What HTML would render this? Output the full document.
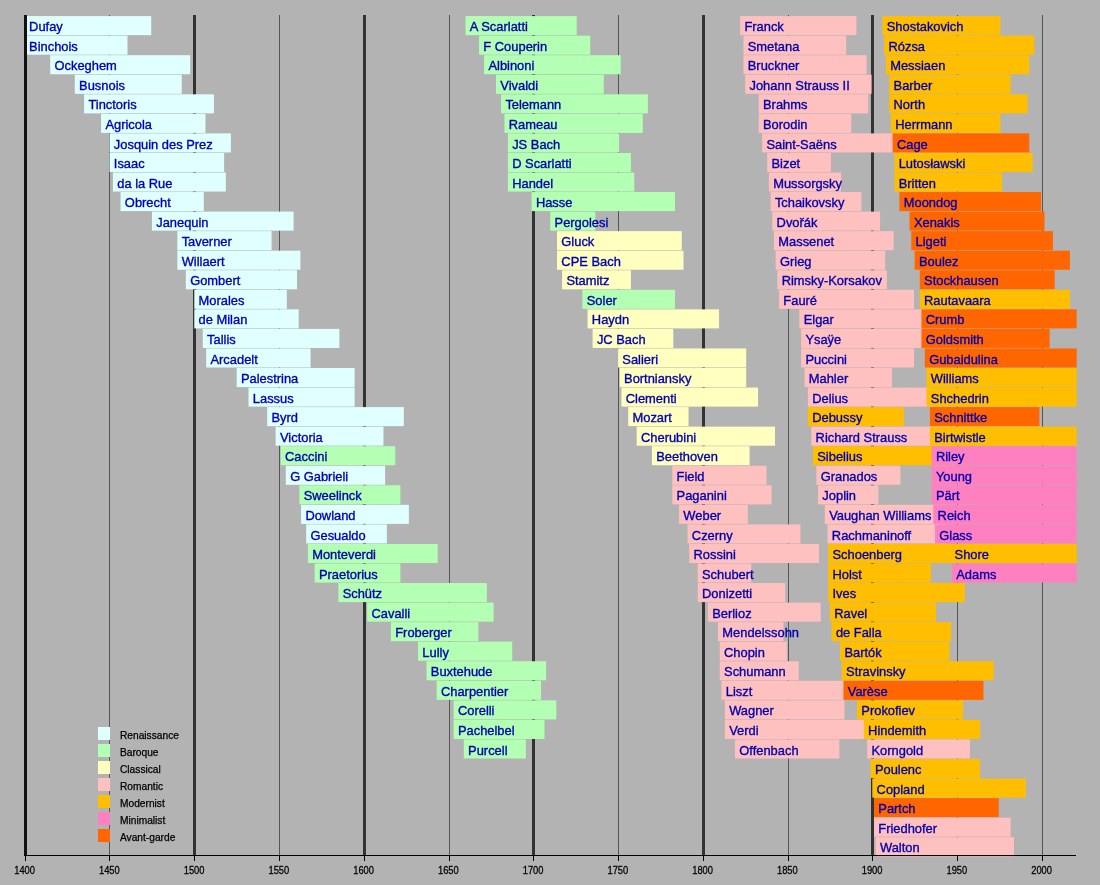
<!DOCTYPE html><html><head><meta charset="utf-8"><style>html,body{margin:0;padding:0;background:#b3b3b3;width:1100px;height:885px;overflow:hidden}#w{width:1100px;height:885px;will-change:transform}svg{display:block}text{font-family:"Liberation Sans",sans-serif}</style></head><body><div id="w">
<svg width="1100" height="885" viewBox="0 0 1100 885">
<rect x="0" y="0" width="1100" height="885" fill="#b3b3b3"/>
<rect x="24" y="15.00" width="3" height="840.00" fill="#333333"/>
<rect x="109" y="15.00" width="1" height="840.00" fill="#555555"/>
<rect x="193" y="15.00" width="3" height="840.00" fill="#333333"/>
<rect x="279" y="15.00" width="1" height="840.00" fill="#555555"/>
<rect x="363" y="15.00" width="3" height="840.00" fill="#333333"/>
<rect x="449" y="15.00" width="1" height="840.00" fill="#555555"/>
<rect x="532" y="15.00" width="3" height="840.00" fill="#333333"/>
<rect x="618" y="15.00" width="1" height="840.00" fill="#555555"/>
<rect x="702" y="15.00" width="3" height="840.00" fill="#333333"/>
<rect x="788" y="15.00" width="1" height="840.00" fill="#555555"/>
<rect x="871" y="15.00" width="3" height="840.00" fill="#333333"/>
<rect x="957" y="15.00" width="1" height="840.00" fill="#555555"/>
<rect x="1042" y="15.00" width="1" height="840.00" fill="#555555"/>
<rect x="25.40" y="16.10" width="125.83" height="19.05" fill="#e0ffff"/>
<rect x="25.40" y="35.65" width="102.10" height="19.05" fill="#e0ffff"/>
<rect x="50.23" y="55.20" width="139.99" height="19.05" fill="#e0ffff"/>
<rect x="74.80" y="74.75" width="106.94" height="19.05" fill="#e0ffff"/>
<rect x="84.12" y="94.30" width="129.82" height="19.05" fill="#e0ffff"/>
<rect x="101.08" y="113.85" width="104.40" height="19.05" fill="#e0ffff"/>
<rect x="109.55" y="133.40" width="121.34" height="19.05" fill="#e0ffff"/>
<rect x="109.55" y="152.95" width="114.56" height="19.05" fill="#e0ffff"/>
<rect x="112.94" y="172.50" width="112.87" height="19.05" fill="#e0ffff"/>
<rect x="120.57" y="192.05" width="83.21" height="19.05" fill="#e0ffff"/>
<rect x="151.93" y="211.60" width="141.68" height="19.05" fill="#e0ffff"/>
<rect x="177.35" y="231.15" width="94.22" height="19.05" fill="#e0ffff"/>
<rect x="177.35" y="250.70" width="123.04" height="19.05" fill="#e0ffff"/>
<rect x="185.83" y="270.25" width="111.17" height="19.05" fill="#e0ffff"/>
<rect x="194.30" y="289.80" width="92.53" height="19.05" fill="#e0ffff"/>
<rect x="194.30" y="309.35" width="104.39" height="19.05" fill="#e0ffff"/>
<rect x="202.78" y="328.90" width="136.60" height="19.05" fill="#e0ffff"/>
<rect x="206.17" y="348.45" width="104.39" height="19.05" fill="#e0ffff"/>
<rect x="236.68" y="368.00" width="117.95" height="19.05" fill="#e0ffff"/>
<rect x="248.54" y="387.55" width="106.09" height="19.05" fill="#e0ffff"/>
<rect x="267.19" y="407.10" width="136.60" height="19.05" fill="#e0ffff"/>
<rect x="275.66" y="426.65" width="107.79" height="19.05" fill="#e0ffff"/>
<rect x="280.75" y="446.20" width="114.56" height="19.05" fill="#b3ffb3"/>
<rect x="285.83" y="465.75" width="99.31" height="19.05" fill="#e0ffff"/>
<rect x="299.39" y="485.30" width="101.00" height="19.05" fill="#b3ffb3"/>
<rect x="301.08" y="504.85" width="107.78" height="19.05" fill="#e0ffff"/>
<rect x="306.17" y="524.40" width="80.67" height="19.05" fill="#e0ffff"/>
<rect x="307.86" y="543.95" width="129.82" height="19.05" fill="#b3ffb3"/>
<rect x="314.64" y="563.50" width="85.75" height="19.05" fill="#b3ffb3"/>
<rect x="338.37" y="583.05" width="148.47" height="19.05" fill="#b3ffb3"/>
<rect x="367.19" y="602.60" width="126.43" height="19.05" fill="#b3ffb3"/>
<rect x="390.92" y="622.15" width="87.44" height="19.05" fill="#b3ffb3"/>
<rect x="418.04" y="641.70" width="94.23" height="19.05" fill="#b3ffb3"/>
<rect x="426.51" y="661.25" width="119.65" height="19.05" fill="#b3ffb3"/>
<rect x="436.68" y="680.80" width="104.39" height="19.05" fill="#b3ffb3"/>
<rect x="453.63" y="700.35" width="102.70" height="19.05" fill="#b3ffb3"/>
<rect x="453.63" y="719.90" width="90.84" height="19.05" fill="#b3ffb3"/>
<rect x="463.80" y="739.45" width="62.02" height="19.05" fill="#b3ffb3"/>
<rect x="465.50" y="16.10" width="111.18" height="19.05" fill="#b3ffb3"/>
<rect x="479.06" y="35.65" width="111.18" height="19.05" fill="#b3ffb3"/>
<rect x="484.14" y="55.20" width="136.60" height="19.05" fill="#b3ffb3"/>
<rect x="496.01" y="74.75" width="107.78" height="19.05" fill="#b3ffb3"/>
<rect x="501.09" y="94.30" width="146.77" height="19.05" fill="#b3ffb3"/>
<rect x="504.48" y="113.85" width="138.30" height="19.05" fill="#b3ffb3"/>
<rect x="507.88" y="133.40" width="111.17" height="19.05" fill="#b3ffb3"/>
<rect x="507.88" y="152.95" width="123.04" height="19.05" fill="#b3ffb3"/>
<rect x="507.88" y="172.50" width="126.43" height="19.05" fill="#b3ffb3"/>
<rect x="531.61" y="192.05" width="143.38" height="19.05" fill="#b3ffb3"/>
<rect x="550.25" y="211.60" width="45.07" height="19.05" fill="#b3ffb3"/>
<rect x="557.03" y="231.15" width="124.74" height="19.05" fill="#ffffc0"/>
<rect x="557.03" y="250.70" width="126.43" height="19.05" fill="#ffffc0"/>
<rect x="562.12" y="270.25" width="68.80" height="19.05" fill="#ffffc0"/>
<rect x="582.45" y="289.80" width="92.53" height="19.05" fill="#b3ffb3"/>
<rect x="587.54" y="309.35" width="131.51" height="19.05" fill="#ffffc0"/>
<rect x="592.62" y="328.90" width="80.66" height="19.05" fill="#ffffc0"/>
<rect x="618.05" y="348.45" width="128.12" height="19.05" fill="#ffffc0"/>
<rect x="619.75" y="368.00" width="126.43" height="19.05" fill="#ffffc0"/>
<rect x="621.44" y="387.55" width="136.60" height="19.05" fill="#ffffc0"/>
<rect x="628.22" y="407.10" width="60.32" height="19.05" fill="#ffffc0"/>
<rect x="636.69" y="426.65" width="138.30" height="19.05" fill="#ffffc0"/>
<rect x="651.95" y="446.20" width="97.62" height="19.05" fill="#ffffc0"/>
<rect x="672.29" y="465.75" width="94.23" height="19.05" fill="#ffc0c0"/>
<rect x="672.29" y="485.30" width="99.31" height="19.05" fill="#ffc0c0"/>
<rect x="679.07" y="504.85" width="68.80" height="19.05" fill="#ffc0c0"/>
<rect x="687.54" y="524.40" width="112.87" height="19.05" fill="#ffc0c0"/>
<rect x="689.24" y="543.95" width="129.82" height="19.05" fill="#ffc0c0"/>
<rect x="697.72" y="563.50" width="53.54" height="19.05" fill="#ffc0c0"/>
<rect x="697.72" y="583.05" width="87.44" height="19.05" fill="#ffc0c0"/>
<rect x="707.88" y="602.60" width="112.87" height="19.05" fill="#ffc0c0"/>
<rect x="718.05" y="622.15" width="65.41" height="19.05" fill="#ffc0c0"/>
<rect x="719.75" y="641.70" width="67.11" height="19.05" fill="#ffc0c0"/>
<rect x="719.75" y="661.25" width="78.97" height="19.05" fill="#ffc0c0"/>
<rect x="721.44" y="680.80" width="128.12" height="19.05" fill="#ffc0c0"/>
<rect x="724.84" y="700.35" width="119.65" height="19.05" fill="#ffc0c0"/>
<rect x="724.84" y="719.90" width="150.16" height="19.05" fill="#ffc0c0"/>
<rect x="735.00" y="739.45" width="104.39" height="19.05" fill="#ffc0c0"/>
<rect x="740.09" y="16.10" width="116.26" height="19.05" fill="#ffc0c0"/>
<rect x="743.48" y="35.65" width="102.70" height="19.05" fill="#ffc0c0"/>
<rect x="743.48" y="55.20" width="123.04" height="19.05" fill="#ffc0c0"/>
<rect x="745.17" y="74.75" width="126.43" height="19.05" fill="#ffc0c0"/>
<rect x="758.74" y="94.30" width="109.48" height="19.05" fill="#ffc0c0"/>
<rect x="758.74" y="113.85" width="92.53" height="19.05" fill="#ffc0c0"/>
<rect x="762.12" y="133.40" width="146.77" height="19.05" fill="#ffc0c0"/>
<rect x="767.21" y="152.95" width="63.71" height="19.05" fill="#ffc0c0"/>
<rect x="768.90" y="172.50" width="72.19" height="19.05" fill="#ffc0c0"/>
<rect x="770.60" y="192.05" width="90.83" height="19.05" fill="#ffc0c0"/>
<rect x="772.29" y="211.60" width="107.79" height="19.05" fill="#ffc0c0"/>
<rect x="773.99" y="231.15" width="119.65" height="19.05" fill="#ffc0c0"/>
<rect x="775.68" y="250.70" width="109.48" height="19.05" fill="#ffc0c0"/>
<rect x="777.38" y="270.25" width="109.48" height="19.05" fill="#ffc0c0"/>
<rect x="779.07" y="289.80" width="134.91" height="19.05" fill="#ffc0c0"/>
<rect x="799.41" y="309.35" width="131.51" height="19.05" fill="#ffc0c0"/>
<rect x="801.11" y="328.90" width="124.74" height="19.05" fill="#ffc0c0"/>
<rect x="801.11" y="348.45" width="112.87" height="19.05" fill="#ffc0c0"/>
<rect x="804.50" y="368.00" width="87.44" height="19.05" fill="#ffc0c0"/>
<rect x="807.89" y="387.55" width="123.04" height="19.05" fill="#ffc0c0"/>
<rect x="807.89" y="407.10" width="95.92" height="19.05" fill="#ffbf00"/>
<rect x="811.28" y="426.65" width="145.08" height="19.05" fill="#ffc0c0"/>
<rect x="812.98" y="446.20" width="156.94" height="19.05" fill="#ffbf00"/>
<rect x="816.37" y="465.75" width="84.05" height="19.05" fill="#ffc0c0"/>
<rect x="818.06" y="485.30" width="60.33" height="19.05" fill="#ffc0c0"/>
<rect x="824.84" y="504.85" width="146.77" height="19.05" fill="#ffc0c0"/>
<rect x="827.55" y="524.40" width="118.63" height="19.05" fill="#ffc0c0"/>
<rect x="828.23" y="543.95" width="131.51" height="19.05" fill="#ffbf00"/>
<rect x="828.23" y="563.50" width="102.70" height="19.05" fill="#ffbf00"/>
<rect x="828.23" y="583.05" width="136.60" height="19.05" fill="#ffbf00"/>
<rect x="829.92" y="602.60" width="106.09" height="19.05" fill="#ffbf00"/>
<rect x="831.62" y="622.15" width="119.65" height="19.05" fill="#ffbf00"/>
<rect x="840.10" y="641.70" width="109.48" height="19.05" fill="#ffbf00"/>
<rect x="841.79" y="661.25" width="151.86" height="19.05" fill="#ffbf00"/>
<rect x="843.49" y="680.80" width="139.99" height="19.05" fill="#ff6600"/>
<rect x="857.04" y="700.35" width="106.09" height="19.05" fill="#ffbf00"/>
<rect x="863.82" y="719.90" width="116.26" height="19.05" fill="#ffbf00"/>
<rect x="867.22" y="739.45" width="102.70" height="19.05" fill="#ffc0c0"/>
<rect x="870.61" y="759.00" width="109.48" height="19.05" fill="#ffbf00"/>
<rect x="872.30" y="778.55" width="153.55" height="19.05" fill="#ffbf00"/>
<rect x="874.00" y="798.10" width="124.74" height="19.05" fill="#ff6600"/>
<rect x="874.00" y="817.65" width="136.60" height="19.05" fill="#ffc0c0"/>
<rect x="875.69" y="837.20" width="138.30" height="19.05" fill="#ffc0c0"/>
<rect x="882.47" y="16.10" width="117.95" height="19.05" fill="#ffbf00"/>
<rect x="884.16" y="35.65" width="150.16" height="19.05" fill="#ffbf00"/>
<rect x="885.86" y="55.20" width="143.38" height="19.05" fill="#ffbf00"/>
<rect x="889.25" y="74.75" width="121.35" height="19.05" fill="#ffbf00"/>
<rect x="889.25" y="94.30" width="138.30" height="19.05" fill="#ffbf00"/>
<rect x="890.94" y="113.85" width="109.48" height="19.05" fill="#ffbf00"/>
<rect x="892.64" y="133.40" width="136.60" height="19.05" fill="#ff6600"/>
<rect x="894.34" y="152.95" width="138.30" height="19.05" fill="#ffbf00"/>
<rect x="894.34" y="172.50" width="107.78" height="19.05" fill="#ffbf00"/>
<rect x="899.42" y="192.05" width="141.69" height="19.05" fill="#ff6600"/>
<rect x="909.59" y="211.60" width="134.91" height="19.05" fill="#ff6600"/>
<rect x="911.28" y="231.15" width="141.69" height="19.05" fill="#ff6600"/>
<rect x="914.67" y="250.70" width="155.25" height="19.05" fill="#ff6600"/>
<rect x="919.76" y="270.25" width="134.91" height="19.05" fill="#ff6600"/>
<rect x="919.76" y="289.80" width="150.16" height="19.05" fill="#ffbf00"/>
<rect x="921.46" y="309.35" width="155.25" height="19.05" fill="#ff6600"/>
<rect x="921.46" y="328.90" width="128.13" height="19.05" fill="#ff6600"/>
<rect x="924.85" y="348.45" width="151.86" height="19.05" fill="#ff6600"/>
<rect x="926.54" y="368.00" width="150.16" height="19.05" fill="#ffbf00"/>
<rect x="926.54" y="387.55" width="150.16" height="19.05" fill="#ffbf00"/>
<rect x="929.93" y="407.10" width="109.48" height="19.05" fill="#ff6600"/>
<rect x="929.93" y="426.65" width="146.77" height="19.05" fill="#ffbf00"/>
<rect x="931.62" y="446.20" width="145.08" height="19.05" fill="#ff80c0"/>
<rect x="931.62" y="465.75" width="145.08" height="19.05" fill="#ff80c0"/>
<rect x="931.62" y="485.30" width="145.08" height="19.05" fill="#ff80c0"/>
<rect x="933.32" y="504.85" width="143.38" height="19.05" fill="#ff80c0"/>
<rect x="935.01" y="524.40" width="141.69" height="19.05" fill="#ff80c0"/>
<rect x="950.27" y="543.95" width="126.43" height="19.05" fill="#ffbf00"/>
<rect x="951.97" y="563.50" width="124.74" height="19.05" fill="#ff80c0"/>
<g fill="#0000b0" stroke="#0000b0" stroke-width="0.35" font-size="12.9" letter-spacing="0"><text x="29.10" y="31.20">Dufay</text><text x="29.10" y="50.75">Binchois</text><text x="54.52" y="70.30">Ockeghem</text><text x="79.10" y="89.85">Busnois</text><text x="88.42" y="109.40">Tinctoris</text><text x="105.38" y="128.95">Agricola</text><text x="113.85" y="148.50">Josquin des Prez</text><text x="113.85" y="168.05">Isaac</text><text x="117.24" y="187.60">da la Rue</text><text x="124.87" y="207.15">Obrecht</text><text x="156.23" y="226.70">Janequin</text><text x="181.65" y="246.25">Taverner</text><text x="181.65" y="265.80">Willaert</text><text x="190.13" y="285.35">Gombert</text><text x="198.60" y="304.90">Morales</text><text x="198.60" y="324.45">de Milan</text><text x="207.08" y="344.00">Tallis</text><text x="210.47" y="363.55">Arcadelt</text><text x="240.98" y="383.10">Palestrina</text><text x="252.84" y="402.65">Lassus</text><text x="271.49" y="422.20">Byrd</text><text x="279.96" y="441.75">Victoria</text><text x="285.05" y="461.30">Caccini</text><text x="290.13" y="480.85">G Gabrieli</text><text x="303.69" y="500.40">Sweelinck</text><text x="305.38" y="519.95">Dowland</text><text x="310.47" y="539.50">Gesualdo</text><text x="312.16" y="559.05">Monteverdi</text><text x="318.94" y="578.60">Praetorius</text><text x="342.67" y="598.15">Schütz</text><text x="371.49" y="617.70">Cavalli</text><text x="395.22" y="637.25">Froberger</text><text x="422.34" y="656.80">Lully</text><text x="430.81" y="676.35">Buxtehude</text><text x="440.98" y="695.90">Charpentier</text><text x="457.94" y="715.45">Corelli</text><text x="457.94" y="735.00">Pachelbel</text><text x="468.10" y="754.55">Purcell</text><text x="469.80" y="31.20">A Scarlatti</text><text x="483.36" y="50.75">F Couperin</text><text x="488.44" y="70.30">Albinoni</text><text x="500.31" y="89.85">Vivaldi</text><text x="505.39" y="109.40">Telemann</text><text x="508.78" y="128.95">Rameau</text><text x="512.17" y="148.50">JS Bach</text><text x="512.17" y="168.05">D Scarlatti</text><text x="512.17" y="187.60">Handel</text><text x="535.90" y="207.15">Hasse</text><text x="554.55" y="226.70">Pergolesi</text><text x="561.33" y="246.25">Gluck</text><text x="561.33" y="265.80">CPE Bach</text><text x="566.41" y="285.35">Stamitz</text><text x="586.75" y="304.90">Soler</text><text x="591.84" y="324.45">Haydn</text><text x="596.92" y="344.00">JC Bach</text><text x="622.35" y="363.55">Salieri</text><text x="624.04" y="383.10">Bortniansky</text><text x="625.74" y="402.65">Clementi</text><text x="632.52" y="422.20">Mozart</text><text x="640.99" y="441.75">Cherubini</text><text x="656.25" y="461.30">Beethoven</text><text x="676.59" y="480.85">Field</text><text x="676.59" y="500.40">Paganini</text><text x="683.37" y="519.95">Weber</text><text x="691.84" y="539.50">Czerny</text><text x="693.54" y="559.05">Rossini</text><text x="702.01" y="578.60">Schubert</text><text x="702.01" y="598.15">Donizetti</text><text x="712.18" y="617.70">Berlioz</text><text x="722.35" y="637.25">Mendelssohn</text><text x="724.05" y="656.80">Chopin</text><text x="724.05" y="676.35">Schumann</text><text x="725.74" y="695.90">Liszt</text><text x="729.13" y="715.45">Wagner</text><text x="729.13" y="735.00">Verdi</text><text x="739.30" y="754.55">Offenbach</text><text x="744.39" y="31.20">Franck</text><text x="747.78" y="50.75">Smetana</text><text x="747.78" y="70.30">Bruckner</text><text x="749.47" y="89.85">Johann Strauss II</text><text x="763.03" y="109.40">Brahms</text><text x="763.03" y="128.95">Borodin</text><text x="766.42" y="148.50">Saint-Saëns</text><text x="771.51" y="168.05">Bizet</text><text x="773.20" y="187.60">Mussorgsky</text><text x="774.90" y="207.15">Tchaikovsky</text><text x="776.59" y="226.70">Dvořák</text><text x="778.29" y="246.25">Massenet</text><text x="779.98" y="265.80">Grieg</text><text x="781.68" y="285.35">Rimsky-Korsakov</text><text x="783.37" y="304.90">Fauré</text><text x="803.71" y="324.45">Elgar</text><text x="805.41" y="344.00">Ysaÿe</text><text x="805.41" y="363.55">Puccini</text><text x="808.80" y="383.10">Mahler</text><text x="812.19" y="402.65">Delius</text><text x="812.19" y="422.20">Debussy</text><text x="815.58" y="441.75">Richard Strauss</text><text x="817.27" y="461.30">Sibelius</text><text x="820.66" y="480.85">Granados</text><text x="822.36" y="500.40">Joplin</text><text x="829.14" y="519.95">Vaughan Williams</text><text x="831.85" y="539.50">Rachmaninoff</text><text x="832.53" y="559.05">Schoenberg</text><text x="832.53" y="578.60">Holst</text><text x="832.53" y="598.15">Ives</text><text x="834.22" y="617.70">Ravel</text><text x="835.92" y="637.25">de Falla</text><text x="844.39" y="656.80">Bartók</text><text x="846.09" y="676.35">Stravinsky</text><text x="847.78" y="695.90">Varèse</text><text x="861.34" y="715.45">Prokofiev</text><text x="868.12" y="735.00">Hindemith</text><text x="871.51" y="754.55">Korngold</text><text x="874.90" y="774.10">Poulenc</text><text x="876.60" y="793.65">Copland</text><text x="878.29" y="813.20">Partch</text><text x="878.29" y="832.75">Friedhofer</text><text x="879.99" y="852.30">Walton</text><text x="886.77" y="31.20">Shostakovich</text><text x="888.46" y="50.75">Rózsa</text><text x="890.16" y="70.30">Messiaen</text><text x="893.55" y="89.85">Barber</text><text x="893.55" y="109.40">North</text><text x="895.24" y="128.95">Herrmann</text><text x="896.94" y="148.50">Cage</text><text x="898.63" y="168.05">Lutosławski</text><text x="898.63" y="187.60">Britten</text><text x="903.72" y="207.15">Moondog</text><text x="913.89" y="226.70">Xenakis</text><text x="915.58" y="246.25">Ligeti</text><text x="918.97" y="265.80">Boulez</text><text x="924.06" y="285.35">Stockhausen</text><text x="924.06" y="304.90">Rautavaara</text><text x="925.75" y="324.45">Crumb</text><text x="925.75" y="344.00">Goldsmith</text><text x="929.14" y="363.55">Gubaidulina</text><text x="930.84" y="383.10">Williams</text><text x="930.84" y="402.65">Shchedrin</text><text x="934.23" y="422.20">Schnittke</text><text x="934.23" y="441.75">Birtwistle</text><text x="935.92" y="461.30">Riley</text><text x="935.92" y="480.85">Young</text><text x="935.92" y="500.40">Pärt</text><text x="937.62" y="519.95">Reich</text><text x="939.31" y="539.50">Glass</text><text x="954.57" y="559.05">Shore</text><text x="956.26" y="578.60">Adams</text></g>
<rect x="24" y="15.00" width="3" height="840.00" fill="#111"/>
<rect x="24" y="855" width="1052" height="1" fill="#000"/>
<rect x="25" y="856" width="1" height="5" fill="#000"/>
<text transform="translate(24.60,874.00) scale(0.935,1)" font-size="10" fill="#000000" stroke="#000000" stroke-width="0.25" text-anchor="middle">1400</text>
<rect x="109" y="856" width="1" height="5" fill="#000"/>
<text transform="translate(109.35,874.00) scale(0.935,1)" font-size="10" fill="#000000" stroke="#000000" stroke-width="0.25" text-anchor="middle">1450</text>
<rect x="194" y="856" width="1" height="5" fill="#000"/>
<text transform="translate(194.10,874.00) scale(0.935,1)" font-size="10" fill="#000000" stroke="#000000" stroke-width="0.25" text-anchor="middle">1500</text>
<rect x="279" y="856" width="1" height="5" fill="#000"/>
<text transform="translate(278.85,874.00) scale(0.935,1)" font-size="10" fill="#000000" stroke="#000000" stroke-width="0.25" text-anchor="middle">1550</text>
<rect x="364" y="856" width="1" height="5" fill="#000"/>
<text transform="translate(363.60,874.00) scale(0.935,1)" font-size="10" fill="#000000" stroke="#000000" stroke-width="0.25" text-anchor="middle">1600</text>
<rect x="449" y="856" width="1" height="5" fill="#000"/>
<text transform="translate(448.35,874.00) scale(0.935,1)" font-size="10" fill="#000000" stroke="#000000" stroke-width="0.25" text-anchor="middle">1650</text>
<rect x="533" y="856" width="1" height="5" fill="#000"/>
<text transform="translate(533.10,874.00) scale(0.935,1)" font-size="10" fill="#000000" stroke="#000000" stroke-width="0.25" text-anchor="middle">1700</text>
<rect x="618" y="856" width="1" height="5" fill="#000"/>
<text transform="translate(617.85,874.00) scale(0.935,1)" font-size="10" fill="#000000" stroke="#000000" stroke-width="0.25" text-anchor="middle">1750</text>
<rect x="703" y="856" width="1" height="5" fill="#000"/>
<text transform="translate(702.60,874.00) scale(0.935,1)" font-size="10" fill="#000000" stroke="#000000" stroke-width="0.25" text-anchor="middle">1800</text>
<rect x="788" y="856" width="1" height="5" fill="#000"/>
<text transform="translate(787.35,874.00) scale(0.935,1)" font-size="10" fill="#000000" stroke="#000000" stroke-width="0.25" text-anchor="middle">1850</text>
<rect x="872" y="856" width="1" height="5" fill="#000"/>
<text transform="translate(872.10,874.00) scale(0.935,1)" font-size="10" fill="#000000" stroke="#000000" stroke-width="0.25" text-anchor="middle">1900</text>
<rect x="957" y="856" width="1" height="5" fill="#000"/>
<text transform="translate(956.85,874.00) scale(0.935,1)" font-size="10" fill="#000000" stroke="#000000" stroke-width="0.25" text-anchor="middle">1950</text>
<rect x="1042" y="856" width="1" height="5" fill="#000"/>
<text transform="translate(1041.60,874.00) scale(0.935,1)" font-size="10" fill="#000000" stroke="#000000" stroke-width="0.25" text-anchor="middle">2000</text>
<rect x="98.00" y="727.00" width="12.00" height="13.00" fill="#e0ffff"/>
<text x="120.00" y="738.80" font-size="10.2" fill="#000000" stroke="#000000" stroke-width="0.25" letter-spacing="0">Renaissance</text>
<rect x="98.00" y="744.00" width="12.00" height="13.00" fill="#b3ffb3"/>
<text x="120.00" y="755.80" font-size="10.2" fill="#000000" stroke="#000000" stroke-width="0.25" letter-spacing="0">Baroque</text>
<rect x="98.00" y="761.00" width="12.00" height="13.00" fill="#ffffc0"/>
<text x="120.00" y="772.80" font-size="10.2" fill="#000000" stroke="#000000" stroke-width="0.25" letter-spacing="0">Classical</text>
<rect x="98.00" y="778.00" width="12.00" height="13.00" fill="#ffc0c0"/>
<text x="120.00" y="789.80" font-size="10.2" fill="#000000" stroke="#000000" stroke-width="0.25" letter-spacing="0">Romantic</text>
<rect x="98.00" y="795.00" width="12.00" height="13.00" fill="#ffbf00"/>
<text x="120.00" y="806.80" font-size="10.2" fill="#000000" stroke="#000000" stroke-width="0.25" letter-spacing="0">Modernist</text>
<rect x="98.00" y="812.00" width="12.00" height="13.00" fill="#ff80c0"/>
<text x="120.00" y="823.80" font-size="10.2" fill="#000000" stroke="#000000" stroke-width="0.25" letter-spacing="0">Minimalist</text>
<rect x="98.00" y="829.00" width="12.00" height="13.00" fill="#ff6600"/>
<text x="120.00" y="840.80" font-size="10.2" fill="#000000" stroke="#000000" stroke-width="0.25" letter-spacing="0">Avant-garde</text>
</svg></div></body></html>
